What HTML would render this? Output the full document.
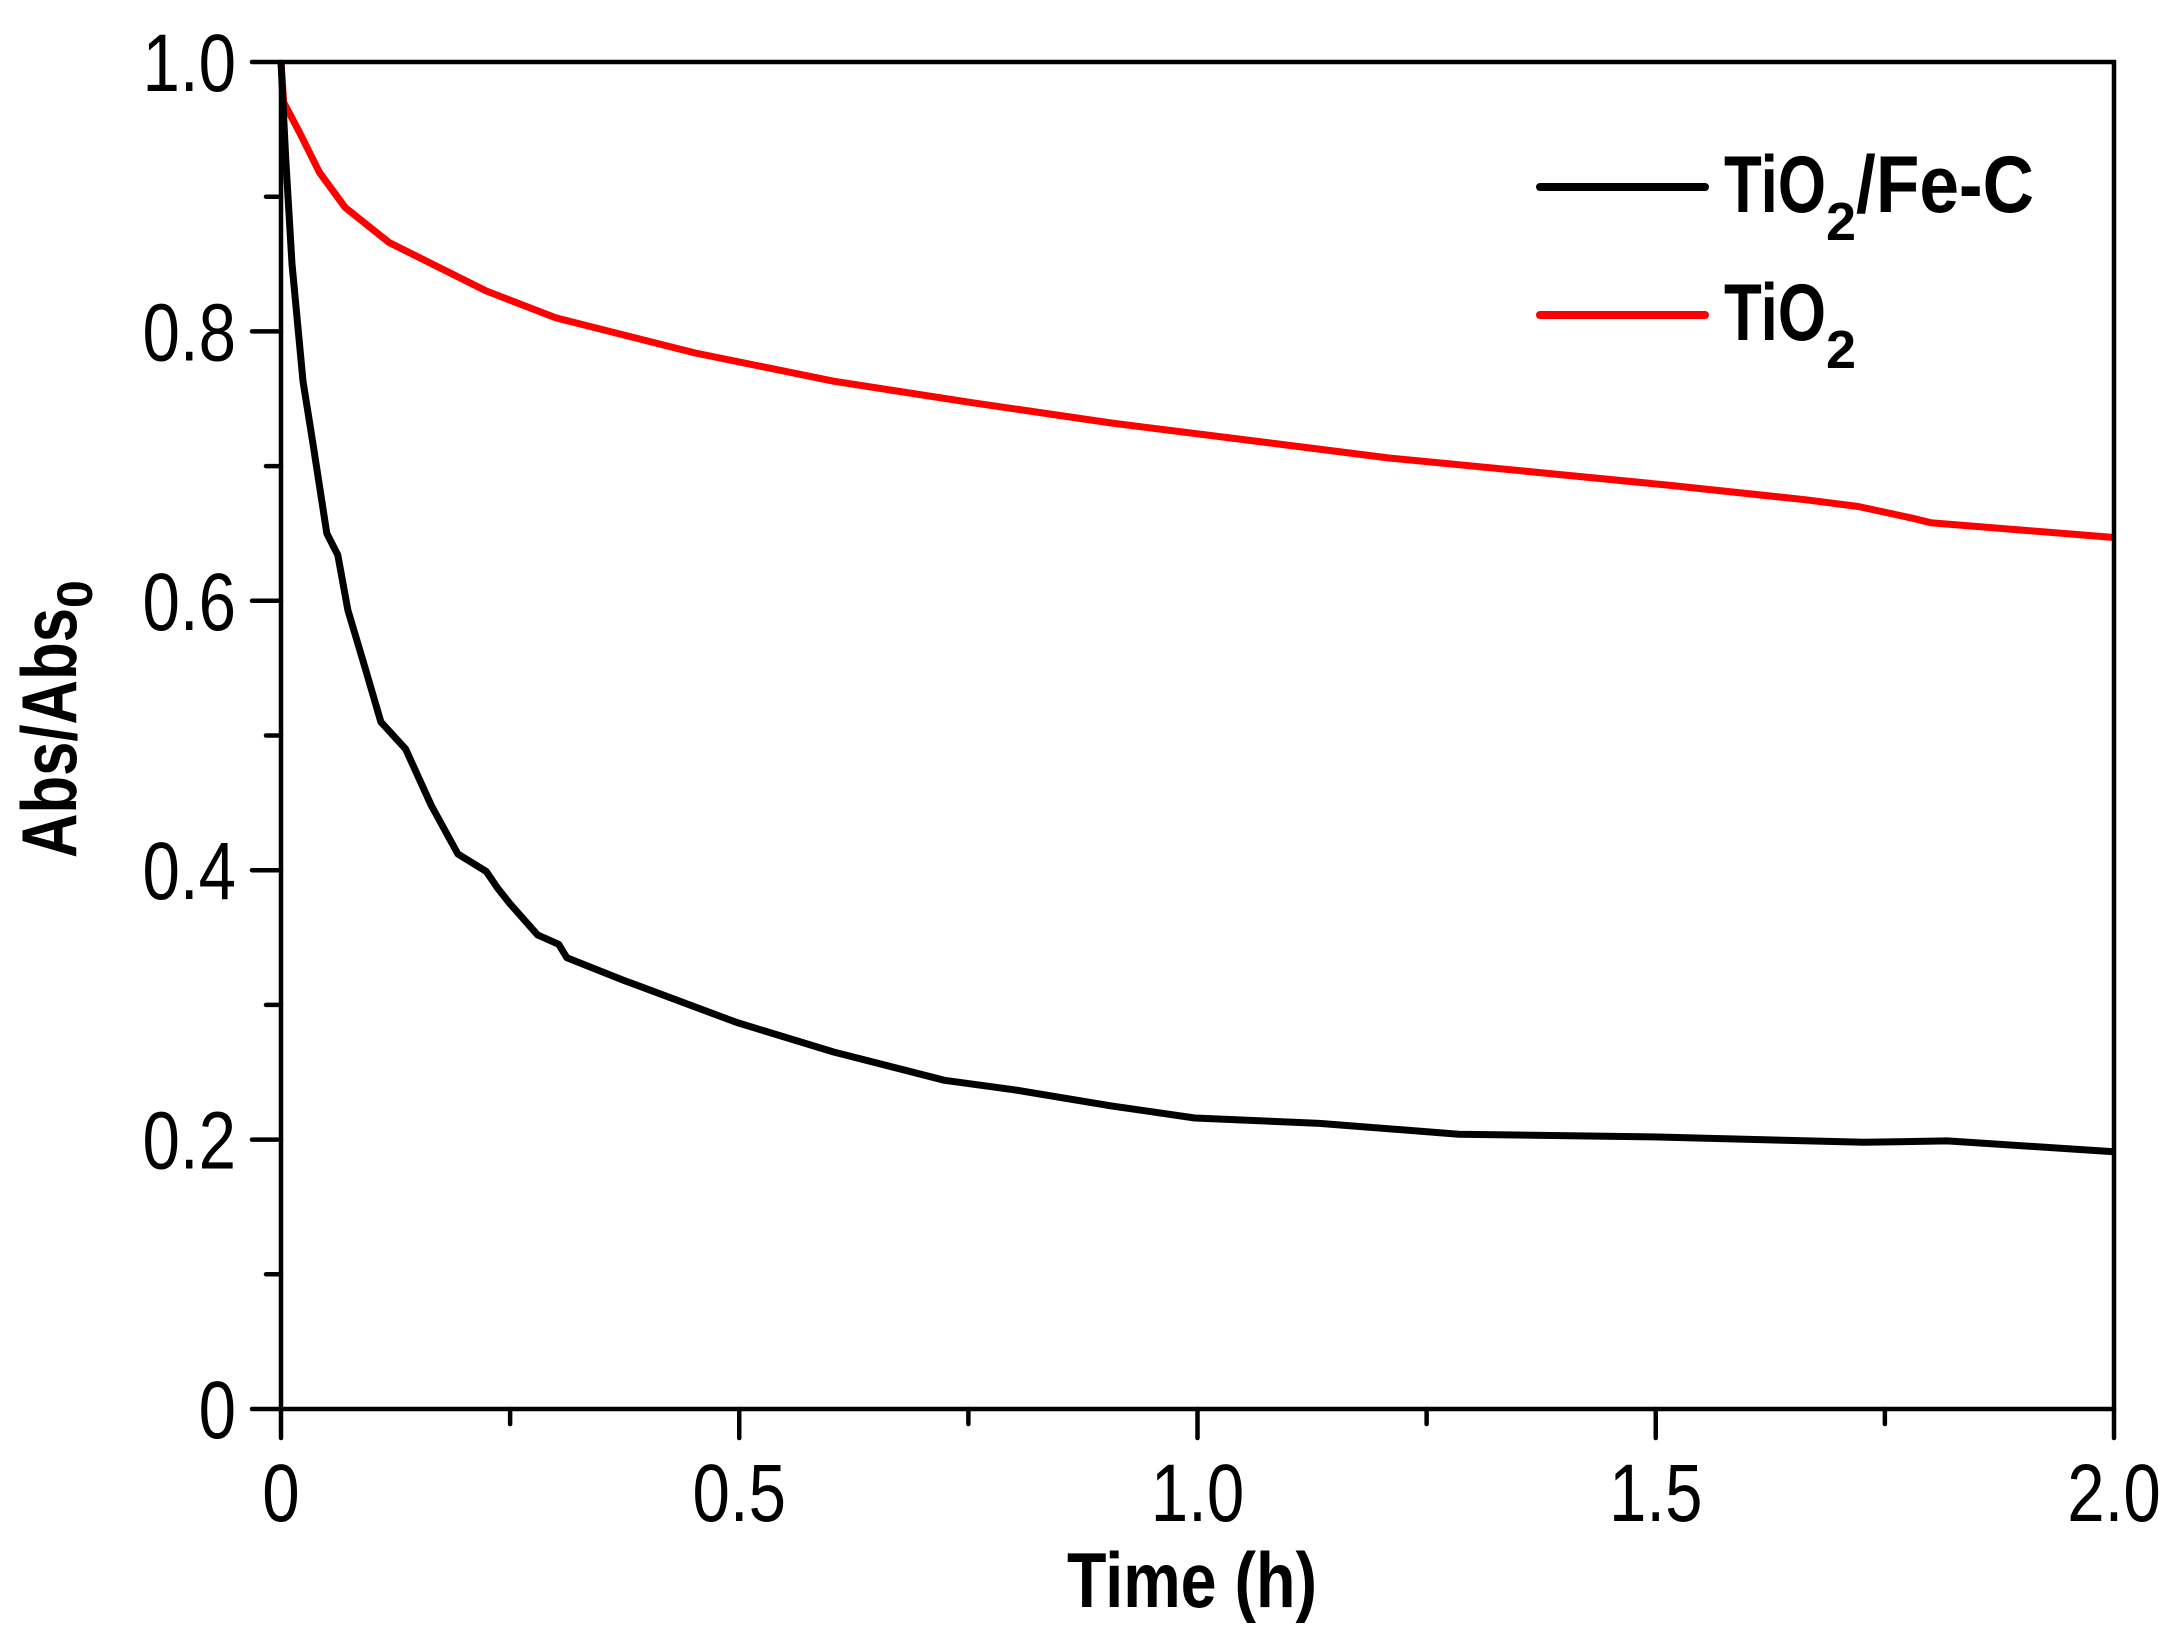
<!DOCTYPE html>
<html><head><meta charset="utf-8"><style>
html,body{margin:0;padding:0;background:#fff;}
svg{display:block;font-family:"Liberation Sans",Arial,sans-serif;}
</style></head><body>
<svg id="chart" width="2178" height="1644" viewBox="0 0 2178 1644" xmlns="http://www.w3.org/2000/svg"></svg>
<script>
const timeFeC = [0,0.005,0.012,0.024,0.035,0.05,0.062,0.073,0.091,0.109,0.136,0.164,0.193,0.224,0.236,0.25,0.28,0.303,0.312,0.375,0.497,0.603,0.724,0.8,0.906,0.997,1.133,1.285,1.497,1.727,1.818,2.0];
const valFeC  = [1.0,0.93,0.85,0.763,0.716,0.65,0.634,0.593,0.552,0.51,0.49,0.448,0.412,0.399,0.387,0.375,0.352,0.345,0.335,0.318,0.287,0.265,0.244,0.237,0.225,0.216,0.212,0.204,0.202,0.198,0.199,0.191];
const timeTiO2 = [0,0.003,0.02,0.042,0.07,0.118,0.224,0.3,0.452,0.603,0.755,0.906,1.058,1.209,1.361,1.512,1.664,1.721,1.782,1.8,2.0];
const valTiO2  = [1.0,0.97,0.948,0.918,0.892,0.866,0.83,0.81,0.784,0.763,0.747,0.732,0.719,0.706,0.696,0.686,0.675,0.67,0.661,0.658,0.647];
const yTicks = [0,0.2,0.4,0.6,0.8,1.0];
const yTickLabels = ["0","0.2","0.4","0.6","0.8","1.0"];
const xTicks = [0,0.5,1.0,1.5,2.0];
const xTickLabels = ["0","0.5","1.0","1.5","2.0"];

const NS="http://www.w3.org/2000/svg";
const svg=document.getElementById('chart');
const L=281,R=2114,T=62,B=1409;
const xs=v=>L+(v/2)*(R-L);
const ys=v=>B-v*(B-T);
function mk(tag,attrs){const e=document.createElementNS(NS,tag);for(const k in attrs)e.setAttribute(k,attrs[k]);svg.appendChild(e);return e;}

function series(tx,vy,color,name){
  const d=tx.map((t,i)=>(i?'L':'M')+xs(t).toFixed(1)+','+ys(vy[i]).toFixed(1)).join(' ');
  const p=mk('path',{d:d,fill:'none',stroke:color,'stroke-width':7,'stroke-linejoin':'round'});
  
  
}
series(timeTiO2,valTiO2,'#ff0000','tio2-line');
series(timeFeC,valFeC,'#000000','tio2-fe-c-line');

const fr=mk('rect',{x:L,y:T,width:R-L,height:B-T,fill:'none',stroke:'#000','stroke-width':4.5});



yTicks.forEach((v,i)=>{
  const t=mk('line',{x1:L-29,x2:L,y1:ys(v),y2:ys(v),stroke:'#000','stroke-width':4.5,'stroke-linecap':'round'});
  
  
  const tx=mk('text',{x:236,y:ys(v)+29,'text-anchor':'end','font-size':82,transform:`translate(236,0) scale(0.82,1) translate(-236,0)`});
  tx.textContent=yTickLabels[i];
  
  
  if(i<yTicks.length-1){
    const m=(v+yTicks[i+1])/2;
    const mt=mk('line',{x1:L-15,x2:L,y1:ys(m),y2:ys(m),stroke:'#000','stroke-width':4.5,'stroke-linecap':'round'});
    
    
  }
});
xTicks.forEach((v,i)=>{
  const t=mk('line',{x1:xs(v),x2:xs(v),y1:B,y2:B+29,stroke:'#000','stroke-width':4.5,'stroke-linecap':'round'});
  
  
  const cx=xs(v);
  const tx=mk('text',{x:cx,y:1521,'text-anchor':'middle','font-size':82,transform:`translate(${cx},0) scale(0.82,1) translate(${-cx},0)`});
  tx.textContent=xTickLabels[i];
  
  
  if(i<xTicks.length-1){
    const m=(v+xTicks[i+1])/2;
    const mt=mk('line',{x1:xs(m),x2:xs(m),y1:B,y2:B+15,stroke:'#000','stroke-width':4.5,'stroke-linecap':'round'});
    
    
  }
});
</script>
<svg style="position:absolute;left:0;top:0" width="2178" height="1644" xmlns="http://www.w3.org/2000/svg">
  <text x="1067" y="1607" font-size="78" font-weight="bold" textLength="250" lengthAdjust="spacingAndGlyphs" font-family="Liberation Sans, sans-serif">Time (h)</text>
  <text transform="translate(76,858) rotate(-90)" font-size="78" font-weight="bold" font-family="Liberation Sans, sans-serif"><tspan textLength="250" lengthAdjust="spacingAndGlyphs">Abs/Abs</tspan><tspan font-size="50" dy="16">0</tspan></text>
  <line x1="1540" y1="187" x2="1705" y2="187" stroke="#000" stroke-width="8" stroke-linecap="round"/>
  <text x="1724" y="212" font-size="81" font-weight="bold" font-family="Liberation Sans, sans-serif"><tspan textLength="102" lengthAdjust="spacingAndGlyphs">TiO</tspan><tspan font-size="54" dy="28">2</tspan><tspan dy="-28" textLength="178" lengthAdjust="spacingAndGlyphs">/Fe-C</tspan></text>
  <line x1="1540" y1="315" x2="1705" y2="315" stroke="#ff0000" stroke-width="8" stroke-linecap="round"/>
  <text x="1724" y="340" font-size="81" font-weight="bold" font-family="Liberation Sans, sans-serif"><tspan textLength="102" lengthAdjust="spacingAndGlyphs">TiO</tspan><tspan font-size="54" dy="28">2</tspan></text>
</svg>
</body></html>
